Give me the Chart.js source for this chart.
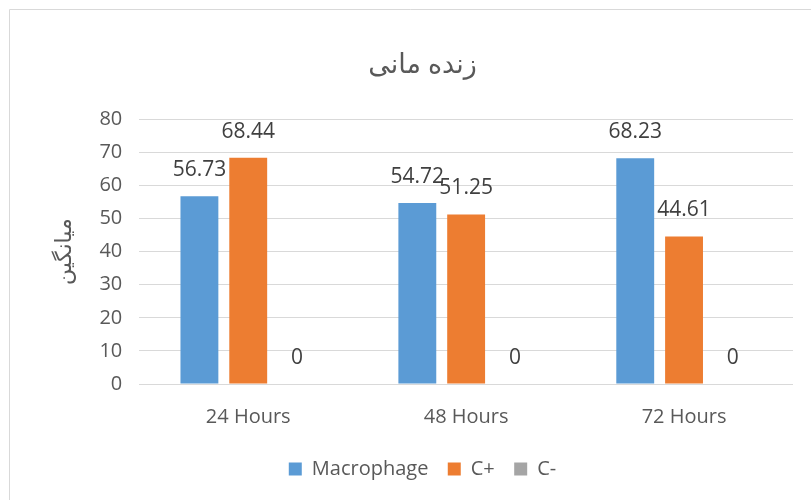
<!DOCTYPE html>
<html>
<head>
<meta charset="utf-8">
<script src="https://cdn.jsdelivr.net/npm/chart.js@4"></script>
<style>
  html, body { margin: 0; padding: 0; background: #fff; }
  #wrap { width: 811px; height: 500px; position: relative; }
</style>
</head>
<body>
<div id="wrap"><canvas id="chart"></canvas></div>
<script>
/* Data */
const categories = ['24 Hours', '48 Hours', '72 Hours'];
const macrophage = [56.73, 54.72, 68.23];
const cPlus = [68.44, 51.25, 44.61];
const cMinus = [0, 0, 0];

const textColor = '#595959';
const gridColor = '#d9d9d9';
const fontFamily = '"Open Sans", "DejaVu Sans", sans-serif';

/* Frame around the chart (only top/left edges are visible) */
const framePlugin = {
  id: 'frame',
  beforeDraw(chart) {
    const ctx = chart.ctx;
    ctx.save();
    ctx.strokeStyle = gridColor;
    ctx.lineWidth = 1;
    ctx.beginPath();
    ctx.moveTo(9.5, chart.height + 2);
    ctx.lineTo(9.5, 9.5);
    ctx.lineTo(chart.width + 2, 9.5);
    ctx.stroke();
    ctx.restore();
  },
};

/* Value labels above each bar */
const valueLabels = {
  id: 'valueLabels',
  afterDatasetsDraw(chart) {
    const ctx = chart.ctx;
    ctx.save();
    ctx.font = '21px ' + fontFamily;
    ctx.fillStyle = '#404040';
    ctx.textAlign = 'center';
    ctx.textBaseline = 'middle';
    chart.data.datasets.forEach((ds, i) => {
      chart.getDatasetMeta(i).data.forEach((bar, j) => {
        ctx.fillText(String(ds.data[j]), bar.x, bar.y - 26);
      });
    });
    ctx.restore();
  },
};

const ctx = document.getElementById('chart').getContext('2d');
new Chart(ctx, {
  type: 'bar',
  data: {
    labels: categories,
    datasets: [
      { label: 'Macrophage', data: macrophage, backgroundColor: '#5b9bd5' },
      { label: 'C+', data: cPlus, backgroundColor: '#ed7d31' },
      { label: 'C-', data: cMinus, backgroundColor: '#a5a5a5' },
    ],
  },
  options: {
    responsive: true,
    maintainAspectRatio: false,
    animation: false,
    categoryPercentage: 0.672,
    barPercentage: 0.776,
    layout: { padding: { top: 49, left: 52, right: 18, bottom: 11 } },
    plugins: {
      title: {
        display: true,
        text: 'زنده مانی',
        color: textColor,
        font: { size: 27, family: fontFamily, weight: 'normal' },
        padding: { top: 0, bottom: 38 },
      },
      legend: {
        position: 'bottom',
        labels: {
          color: textColor,
          font: { size: 20, family: fontFamily },
          boxWidth: 13,
          boxHeight: 13,
          padding: 9,
          // small padding keeps the legend low; trailing spaces restore the gap between items
          generateLabels(chart) {
            const items = Chart.defaults.plugins.legend.labels.generateLabels(chart);
            items.forEach((it, i) => {
              if (i < items.length - 1) it.text += '  ';
            });
            return items;
          },
        },
      },
      tooltip: { enabled: false },
    },
    scales: {
      x: {
        grid: { display: false, drawTicks: false },
        border: { display: false },
        ticks: { color: textColor, font: { size: 20, family: fontFamily, lineHeight: 0.1 }, padding: 32 },
      },
      y: {
        min: 0,
        max: 80,
        ticks: { stepSize: 10, color: textColor, font: { size: 20, family: fontFamily }, padding: 17 },
        grid: { color: gridColor, lineWidth: 1, drawTicks: false },
        border: { display: false },
        title: {
          display: true,
          text: 'میانگین',
          color: textColor,
          font: { size: 22, family: fontFamily },
          padding: { top: 0, bottom: 4 },
        },
      },
    },
  },
  plugins: [framePlugin, valueLabels],
});
</script>
</body>
</html>
